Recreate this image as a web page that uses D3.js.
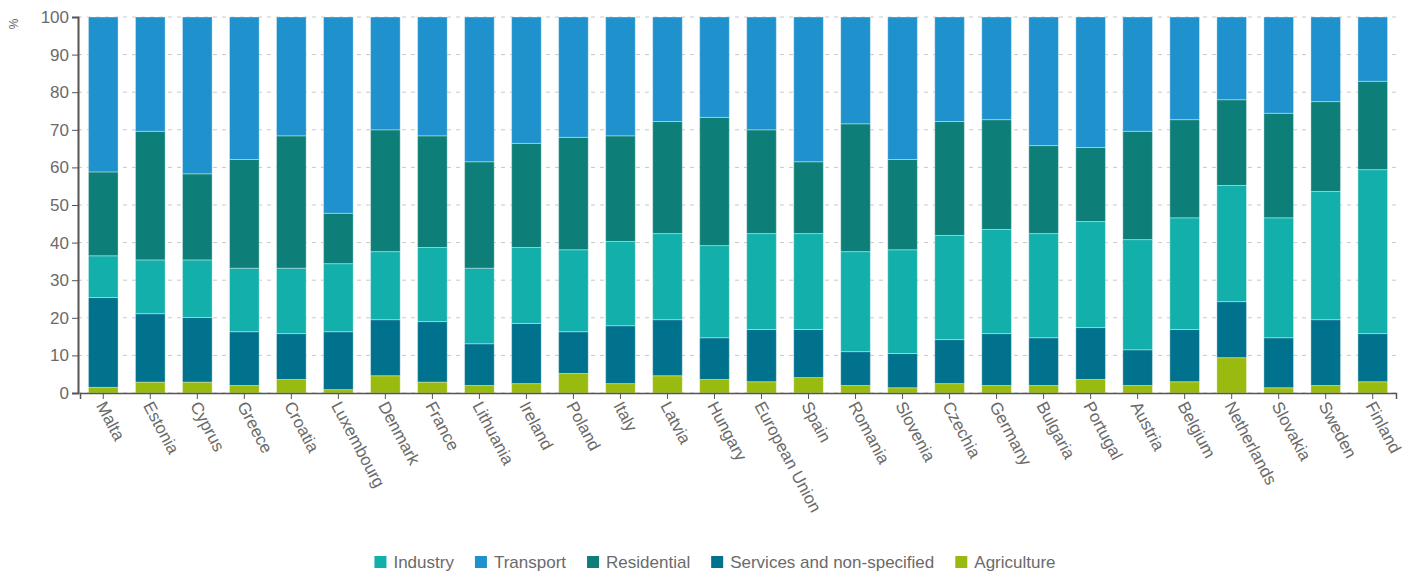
<!DOCTYPE html>
<html>
<head>
<meta charset="utf-8">
<script src="https://cdn.jsdelivr.net/npm/d3@7"></script>
<style>
  body { margin: 0; background: #fff; font-family: "Liberation Sans", Arial, sans-serif; }
  .axis text { fill: #6a6a6a; font-size: 17px; font-family: "Liberation Sans", Arial, sans-serif; }
  .axis path, .axis line { stroke: #555; }
  .grid line { stroke: #c8c8c8; stroke-dasharray: 4,5; }
  .legend text { fill: #6a6a6a; font-size: 17px; }
</style>
</head>
<body>
<svg width="1418" height="575"></svg>
<script>
// countries, in the order they are drawn
var countries = ["Malta", "Estonia", "Cyprus", "Greece", "Croatia", "Luxembourg", "Denmark", "France",
  "Lithuania", "Ireland", "Poland", "Italy", "Latvia", "Hungary", "European Union", "Spain", "Romania",
  "Slovenia", "Czechia", "Germany", "Bulgaria", "Portugal", "Austria", "Belgium", "Netherlands",
  "Slovakia", "Sweden", "Finland"];

// shares in %, per sector
var agriculture = [1.5, 2.9, 2.9, 2.0, 3.6, 0.9, 4.6, 2.9, 2.0, 2.5, 5.2, 2.5, 4.6, 3.6, 3.0, 4.1, 2.0,
  1.4, 2.5, 2.0, 2.0, 3.6, 2.0, 3.0, 9.4, 1.4, 2.0, 3.0];
var services = [23.9, 18.2, 17.2, 14.3, 12.2, 15.4, 14.9, 16.1, 11.1, 16.0, 11.1, 15.4, 14.9, 11.1, 13.9,
  12.8, 9.0, 9.1, 11.7, 13.8, 12.7, 13.8, 9.5, 13.9, 14.9, 13.3, 17.5, 12.8];
var industry = [11.1, 14.3, 15.3, 16.9, 17.4, 18.1, 18.1, 19.7, 20.1, 20.2, 21.8, 22.4, 22.9, 24.5, 25.5,
  25.5, 26.6, 27.6, 27.7, 27.7, 27.7, 28.2, 29.3, 29.7, 30.9, 31.9, 34.1, 43.6];
var residential = [22.3, 34.2, 22.9, 28.9, 35.2, 13.4, 32.4, 29.7, 28.3, 27.7, 29.9, 28.1, 29.8, 34.1, 27.6,
  19.1, 34.0, 24.0, 30.3, 29.2, 23.4, 19.7, 28.8, 26.1, 22.8, 27.8, 23.9, 23.5];
var transport = [41.2, 30.4, 41.7, 37.9, 31.6, 52.2, 30.0, 31.6, 38.5, 33.6, 32.0, 31.6, 27.8, 26.7, 30.0,
  38.5, 28.4, 37.9, 27.8, 27.3, 34.2, 34.7, 30.4, 27.3, 22.0, 25.6, 22.5, 17.1];

var yTicks = [0, 10, 20, 30, 40, 50, 60, 70, 80, 90, 100];

// stack order bottom -> top
var series = [
  {key: "Agriculture", values: agriculture, color: "#99ba0e"},
  {key: "Services and non-specified", values: services, color: "#00728d"},
  {key: "Industry", values: industry, color: "#13afaa"},
  {key: "Residential", values: residential, color: "#0e7f78"},
  {key: "Transport", values: transport, color: "#1f91cd"}
];
var legendOrder = ["Industry", "Transport", "Residential", "Services and non-specified", "Agriculture"];

var svg = d3.select("svg"),
    margin = {top: 17, right: 22, bottom: 182, left: 78},
    width = +svg.attr("width") - margin.left - margin.right,
    height = +svg.attr("height") - margin.top - margin.bottom;

var rows = countries.map(function(c, i) {
  var r = {country: c};
  series.forEach(function(s) { r[s.key] = s.values[i]; });
  return r;
});

var stack = d3.stack().keys(series.map(function(s) { return s.key; }));
var layers = stack(rows);
var color = d3.scaleOrdinal().domain(series.map(function(s) { return s.key; }))
  .range(series.map(function(s) { return s.color; }));

var x = d3.scaleBand().domain(countries).range([2, width]).paddingInner(0.37).paddingOuter(0.18);
var y = d3.scaleLinear().domain([0, 100]).range([height, 0]);

var g = svg.append("g").attr("transform", "translate(" + margin.left + "," + margin.top + ")");

// grid
g.append("g").attr("class", "grid")
  .selectAll("line").data(yTicks).enter().append("line")
  .attr("x1", 0).attr("x2", width)
  .attr("y1", function(d) { return y(d); })
  .attr("y2", function(d) { return y(d); });

// bars
g.selectAll(".layer").data(layers).enter().append("g")
  .attr("class", "layer")
  .attr("fill", function(d) { return color(d.key); })
  .selectAll("rect").data(function(d) { return d; }).enter().append("rect")
  .attr("x", function(d) { return x(d.data.country); })
  .attr("width", x.bandwidth())
  .attr("y", function(d) { return y(d[1]); })
  .attr("height", function(d) { return y(d[0]) - y(d[1]); })
  .attr("stroke", "rgba(255,255,255,0.35)")
  .attr("stroke-width", 1);

// axes
var yAxis = g.append("g").attr("class", "axis")
  .call(d3.axisLeft(y).tickValues(yTicks).tickSize(6).tickPadding(3));
yAxis.select(".domain").attr("stroke-width", 2);

var xAxis = g.append("g").attr("class", "axis")
  .attr("transform", "translate(0," + height + ")")
  .call(d3.axisBottom(x).tickSize(6).tickSizeOuter(6));
xAxis.select(".domain").attr("stroke-width", 1.5);
xAxis.selectAll(".tick text")
  .attr("x", 0).attr("y", 0).attr("dy", "0.3em")
  .attr("text-anchor", "start")
  .attr("transform", "translate(-3,10) rotate(62)");

svg.append("text")
  .attr("transform", "translate(18,24) rotate(-90)")
  .attr("text-anchor", "middle")
  .attr("fill", "#666").attr("font-size", 12)
  .text("%");

// legend, centred under the plot
var legend = svg.append("g").attr("class", "legend").attr("transform", "translate(0,562)");
var lx = 0;
legendOrder.forEach(function(k) {
  var item = legend.append("g").attr("transform", "translate(" + lx + ",0)");
  item.append("rect").attr("x", 0).attr("y", -6).attr("width", 12).attr("height", 12).attr("fill", color(k));
  var t = item.append("text").attr("x", 19).attr("y", 0).attr("dy", "0.35em").text(k);
  lx += 19 + t.node().getComputedTextLength() + 21;
});
legend.attr("transform", "translate(" + (715 - (lx - 21) / 2) + ",562)");
</script>
</body>
</html>
